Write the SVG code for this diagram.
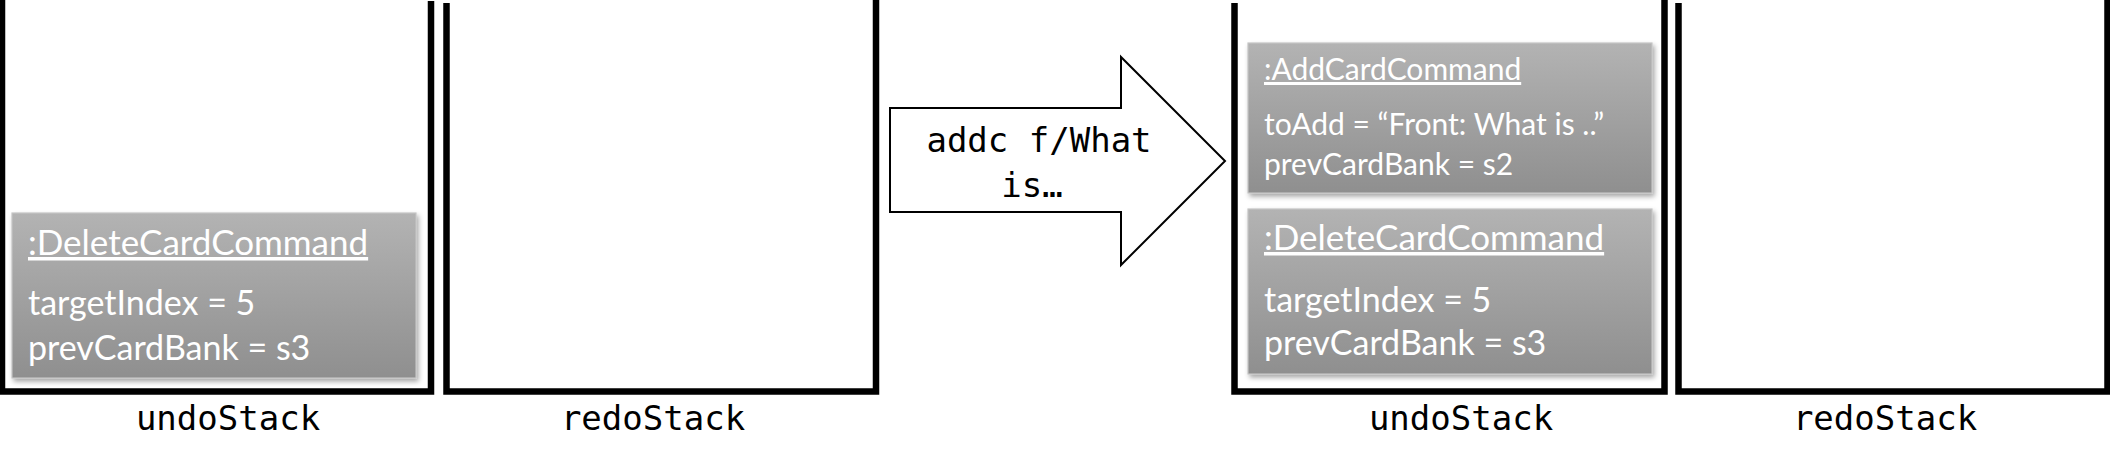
<svg xmlns="http://www.w3.org/2000/svg" width="2110" height="464" viewBox="0 0 2110 464">
<style>
.wall{fill:none;stroke:#000;stroke-width:6.5;stroke-linejoin:miter}
.lbl{font-family:"DejaVu Sans Mono","Liberation Mono",monospace;font-size:34px;fill:#000;text-anchor:middle}
.box{fill:url(#g);stroke:#c4c4c4;stroke-width:1.2;filter:url(#sh)}
.t{font-family:Lato,"Liberation Sans",sans-serif;fill:#fff}
.ttl{text-decoration:underline}
.arrow{fill:#fff;stroke:#000;stroke-width:2}
</style>
<defs>
<linearGradient id="g" x1="0" y1="0" x2="0" y2="1">
<stop offset="0" stop-color="#b3b3b3"/>
<stop offset="1" stop-color="#8f8f8f"/>
</linearGradient>
<filter id="sh" x="-5%" y="-5%" width="115%" height="125%">
<feDropShadow dx="2" dy="3" stdDeviation="2.5" flood-color="#000" flood-opacity="0.35"/>
</filter>
</defs>
<g id="undoStack1">
<path class="wall" d="M2,0 V391.5 H431 V1"/>
<text class="lbl" x="228" y="430">undoStack</text>
</g>
<g id="redoStack1">
<path class="wall" d="M446.5,3 V391.5 H876 V0"/>
<text class="lbl" x="653" y="430">redoStack</text>
</g>
<g id="undoStack2">
<path class="wall" d="M1234.5,3 V391.5 H1664.5 V0"/>
<text class="lbl" x="1461" y="430">undoStack</text>
</g>
<g id="redoStack2">
<path class="wall" d="M1678.5,3 V391.5 H2107.5 V0"/>
<text class="lbl" x="1885" y="430">redoStack</text>
</g>
<g id="deleteCmd1">
<rect class="box" x="12" y="213" width="404" height="165"/>
<text class="t ttl" x="28" y="255" font-size="35">:DeleteCardCommand</text>
<text class="t" x="28" y="315" font-size="34">targetIndex = 5</text>
<text class="t" x="28" y="360" font-size="34">prevCardBank = s3</text>
</g>
<g id="addCmd">
<rect class="box" x="1248" y="43" width="404" height="150"/>
<text class="t ttl" x="1264" y="80" font-size="30">:AddCardCommand</text>
<text class="t" x="1264" y="135" font-size="30">toAdd = “Front: What is ..”</text>
<text class="t" x="1264" y="175" font-size="30">prevCardBank = s2</text>
</g>
<g id="deleteCmd2">
<rect class="box" x="1248" y="209" width="404" height="165"/>
<text class="t ttl" x="1264" y="250" font-size="35">:DeleteCardCommand</text>
<text class="t" x="1264" y="312" font-size="34">targetIndex = 5</text>
<text class="t" x="1264" y="355" font-size="34">prevCardBank = s3</text>
</g>
<g id="connectors">
<g id="addcArrow">
<polygon class="arrow" points="890,108 1121,108 1121,57 1225,161 1121,265 1121,212 890,212"/>
<text class="lbl" x="1039" y="152">addc f/What</text>
<text class="lbl" x="1032" y="197">is…</text>
</g>
</g>
</svg>
